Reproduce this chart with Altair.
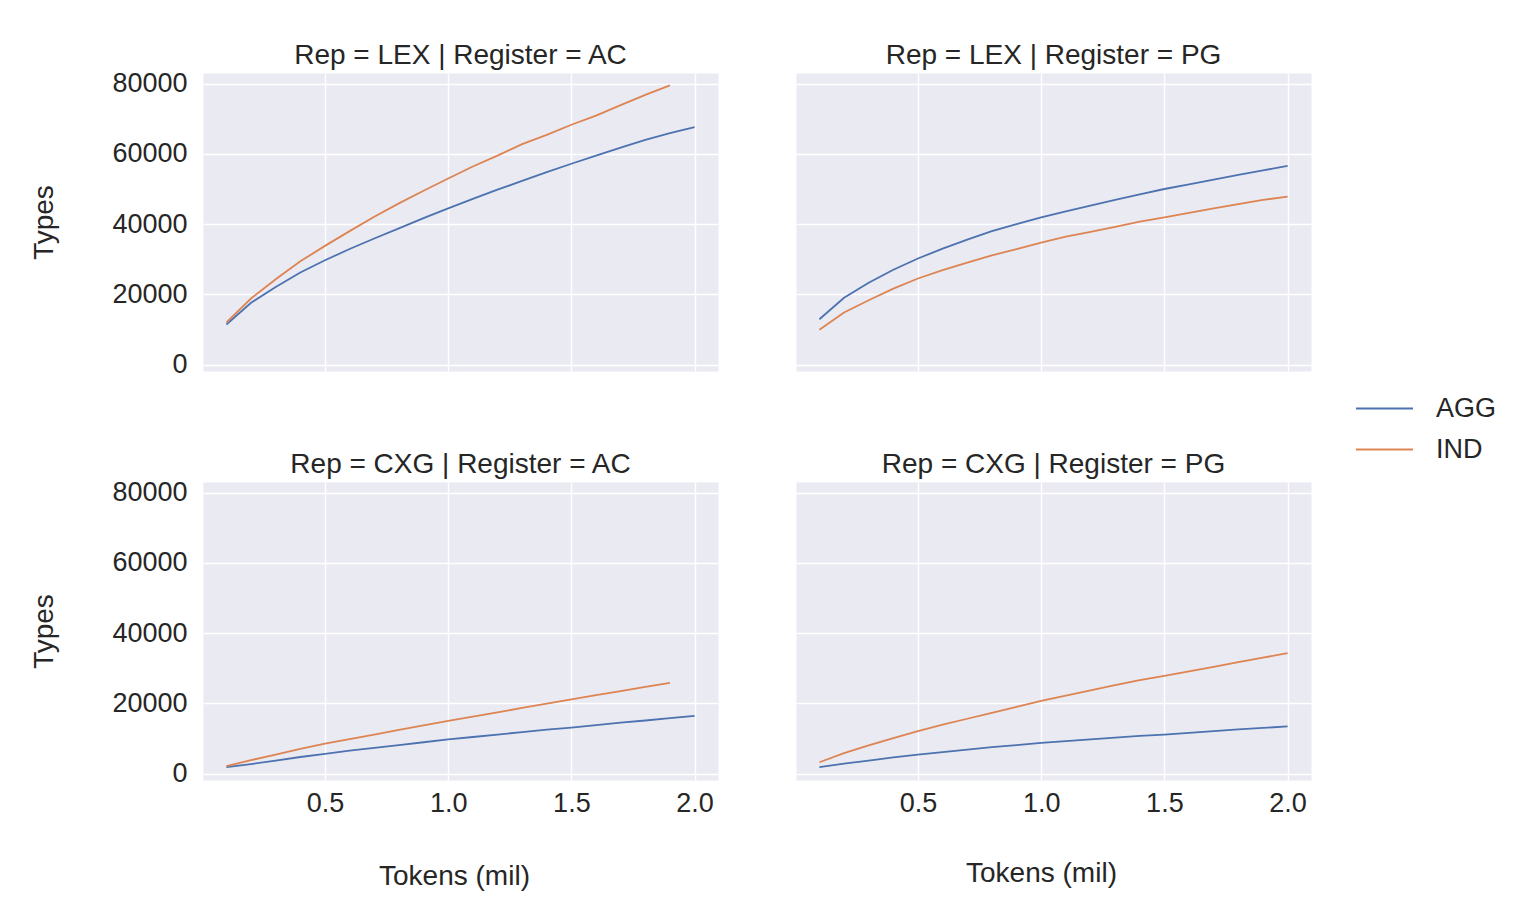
import altair as alt
import pandas as pd

tokens = [0.1, 0.2, 0.3, 0.4, 0.5, 0.6, 0.7, 0.8, 0.9, 1.0,
          1.1, 1.2, 1.3, 1.4, 1.5, 1.6, 1.7, 1.8, 1.9, 2.0]

lex_ac_agg = [11400, 17600, 22100, 26200, 29700, 32900, 35900, 38800, 41700, 44500,
              47200, 49800, 52300, 54800, 57200, 59500, 61800, 64000, 65900, 67600]
lex_ac_ind = [12000, 18800, 24300, 29400, 33800, 38000, 42100, 45900, 49500, 53000,
              56400, 59500, 62800, 65400, 68300, 70900, 73900, 76800, 79500]
lex_pg_agg = [12900, 19000, 23300, 27000, 30200, 33000, 35600, 38000, 40000, 41900,
              43600, 45300, 46900, 48500, 50000, 51300, 52700, 54000, 55300, 56600]
lex_pg_ind = [9900, 14800, 18300, 21600, 24500, 26900, 29000, 31100, 32900, 34700,
              36400, 37800, 39200, 40700, 41900, 43200, 44500, 45700, 46900, 47800]
cxg_ac_agg = [1800, 2700, 3700, 4700, 5600, 6500, 7300, 8100, 8900, 9700,
              10400, 11100, 11800, 12500, 13100, 13800, 14500, 15100, 15800, 16400]
cxg_ac_ind = [2100, 3800, 5400, 7000, 8500, 9800, 11100, 12400, 13700, 15000,
              16200, 17400, 18700, 19900, 21100, 22300, 23500, 24700, 25800]
cxg_pg_agg = [1800, 2800, 3700, 4600, 5400, 6100, 6800, 7500, 8100, 8700,
              9200, 9700, 10200, 10700, 11100, 11600, 12100, 12600, 13000, 13400]
cxg_pg_ind = [3200, 5800, 8000, 10100, 12100, 13900, 15600, 17300, 19000, 20700,
              22200, 23700, 25200, 26600, 27800, 29100, 30400, 31700, 33000, 34300]

groups = ["AGG", "IND"]
colors = ["#4C72B0", "#DD8452"]
x_ticks = [0.5, 1.0, 1.5, 2.0]
y_ticks = [0, 20000, 40000, 60000, 80000]

series = [
    ("LEX", "AC", "AGG", lex_ac_agg), ("LEX", "AC", "IND", lex_ac_ind),
    ("LEX", "PG", "AGG", lex_pg_agg), ("LEX", "PG", "IND", lex_pg_ind),
    ("CXG", "AC", "AGG", cxg_ac_agg), ("CXG", "AC", "IND", cxg_ac_ind),
    ("CXG", "PG", "AGG", cxg_pg_agg), ("CXG", "PG", "IND", cxg_pg_ind),
]
rows = []
for rep, reg, grp, vals in series:
    for t, v in zip(tokens, vals):
        rows.append({"Rep": rep, "Register": reg, "Group": grp, "Tokens": t, "Types": v})
df = pd.DataFrame(rows)

FONT = "Liberation Sans"
TXT = "#262626"
W, H = 515, 298

color_scale = alt.Scale(domain=groups, range=colors)
x_scale = alt.Scale(domain=[0.005, 2.095], nice=False, zero=False)
y_scale = alt.Scale(domain=[-1850, 83050], nice=False, zero=False)


def panel(rep, reg, show_x, show_y, title_x, x_title_pad, t_offset):
    common = dict(grid=True, gridColor="white", gridWidth=1.4, ticks=False, tickSize=0,
                  domain=False, labelFont=FONT, labelFontSize=27, labelColor=TXT,
                  titleFont=FONT, titleFontSize=28, titleColor=TXT, titleFontWeight="normal")
    if show_x:
        xaxis = alt.Axis(values=x_ticks, format=".1f", title="Tokens (mil)", labelPadding=10,
                         titlePadding=x_title_pad, titleX=title_x, **common)
    else:
        xaxis = alt.Axis(values=x_ticks, labels=False, title=None, **common)
    if show_y:
        yaxis = alt.Axis(values=y_ticks, format="d", title="Types", labelPadding=16,
                         titlePadding=53, **common)
    else:
        yaxis = alt.Axis(values=y_ticks, labels=False, title=None, **common)
    return alt.Chart(df).transform_filter(
        (alt.datum.Rep == rep) & (alt.datum.Register == reg)
    ).mark_line(strokeWidth=1.8).encode(
        x=alt.X("Tokens:Q", scale=x_scale, axis=xaxis),
        y=alt.Y("Types:Q", scale=y_scale, axis=yaxis),
        color=alt.Color("Group:N", scale=color_scale, title=None,
                        legend=alt.Legend(orient="none", legendX=1152, legendY=322,
                                          symbolType="stroke", symbolSize=3249,
                                          symbolStrokeWidth=1.8, labelFont=FONT,
                                          labelFontSize=27, labelColor=TXT, clipHeight=27,
                                          labelOffset=22, rowPadding=13, padding=0)),
    ).properties(
        width=W, height=H,
        title=alt.TitleParams(f"Rep = {rep} | Register = {reg}", font=FONT, fontSize=28,
                              color=TXT, fontWeight="normal", offset=t_offset,
                              frame="group", anchor="middle"),
    )


top = alt.hconcat(panel("LEX", "AC", False, True, 251, 46, 0),
                  panel("LEX", "PG", False, False, 245, 43, 3),
                  spacing=76)
bottom = alt.hconcat(panel("CXG", "AC", True, True, 251, 46, 0),
                     panel("CXG", "PG", True, False, 245, 43, 3),
                     spacing=76)
chart = alt.vconcat(top, bottom, spacing=71).properties(
    padding={"left": 22, "top": 33, "right": 5, "bottom": 5},
    background="white",
).configure_view(fill="#EAEAF2", stroke="transparent")

chart.save("out.html", embed_options={"renderer": "svg", "actions": False})
